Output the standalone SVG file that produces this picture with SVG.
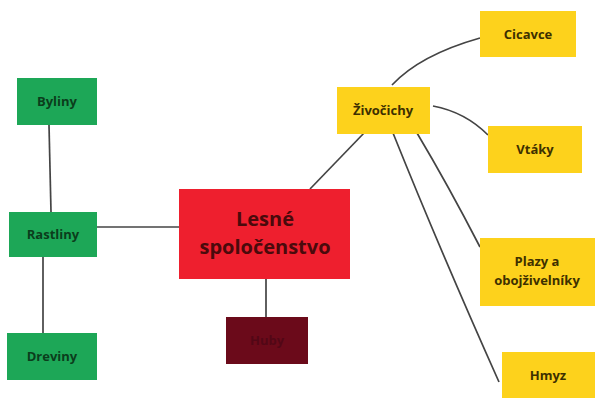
<svg xmlns="http://www.w3.org/2000/svg" width="595" height="398" viewBox="0 0 595 398">
<style>
.lbl{font-family:"Open Sans","Liberation Sans",sans-serif;font-weight:bold;font-size:13px;text-anchor:middle}
.g rect{fill:#1da757}
.g text{fill:#0b3d1c}
.y rect{fill:#fdd21c}
.y text{fill:#3d3000}
.c path,.c line{stroke:#444444;stroke-width:1.7;fill:none}
</style>
<rect width="595" height="398" fill="#ffffff"/>
<g class="c" id="connectors">
<line x1="49" y1="125" x2="51" y2="212"/>
<line x1="43" y1="257" x2="43" y2="333"/>
<line x1="97" y1="227" x2="179" y2="227"/>
<line x1="266" y1="279" x2="266" y2="317"/>
<line x1="365" y1="132" x2="310" y2="189"/>
<path d="M392,85 Q420,55 480,38"/>
<path d="M433,106 Q465,112 488,135"/>
<path d="M417,133 Q448,185 480,247"/>
<path d="M393,133 Q440,250 499,382"/>
</g>
<g id="lesne">
<rect x="179" y="189" width="171" height="90" fill="#ee1f2e"/>
<text x="265" y="226" font-family="'Open Sans','Liberation Sans',sans-serif" font-weight="bold" font-size="20" fill="#4a0a0c" text-anchor="middle">Lesné</text>
<text x="265" y="254" font-family="'Open Sans','Liberation Sans',sans-serif" font-weight="bold" font-size="20" fill="#4a0a0c" text-anchor="middle">spoločenstvo</text>
</g>
<g id="huby">
<rect x="226" y="317" width="82" height="47" fill="#6b0a1a"/>
<text x="267" y="345" class="lbl" fill="#520716">Huby</text>
</g>
<g id="byliny" class="g">
<rect x="17" y="78" width="80" height="47"/>
<text x="57" y="106" class="lbl">Byliny</text>
</g>
<g id="rastliny" class="g">
<rect x="9" y="212" width="88" height="45"/>
<text x="53" y="239" class="lbl">Rastliny</text>
</g>
<g id="dreviny" class="g">
<rect x="7" y="333" width="90" height="47"/>
<text x="52" y="361" class="lbl">Dreviny</text>
</g>
<g id="zivocichy" class="y">
<rect x="337" y="87" width="93" height="47"/>
<text x="383" y="115" class="lbl">Živočichy</text>
</g>
<g id="cicavce" class="y">
<rect x="480" y="11" width="96" height="46"/>
<text x="528" y="39" class="lbl">Cicavce</text>
</g>
<g id="vtaky" class="y">
<rect x="488" y="126" width="94" height="47"/>
<text x="535" y="154" class="lbl">Vtáky</text>
</g>
<g id="plazy" class="y">
<rect x="480" y="238" width="115" height="68"/>
<text x="537" y="266" class="lbl">Plazy a</text>
<text x="537" y="285" class="lbl">obojživelníky</text>
</g>
<g id="hmyz" class="y">
<rect x="502" y="352" width="93" height="46"/>
<text x="548" y="380" class="lbl">Hmyz</text>
</g>
</svg>
